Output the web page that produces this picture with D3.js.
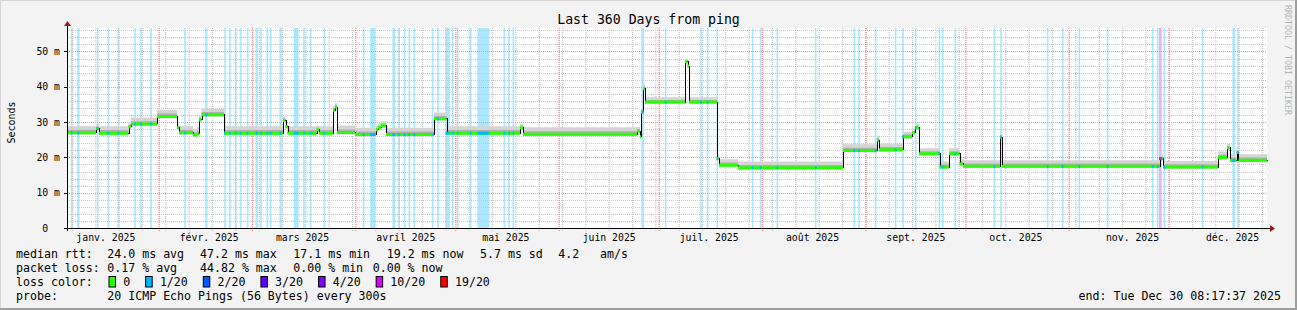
<!DOCTYPE html>
<html>
<head>
<meta charset="utf-8">
<script src="https://cdn.jsdelivr.net/npm/d3@7"></script>
<style>
  body { margin: 0; background: #f3f3f3; }
  text { font-family: "DejaVu Sans Mono", monospace; white-space: pre; }
</style>
</head>
<body>
<div id="chart"></div>
<script>
// --- data ----------------------------------------------------------------
// median rtt as steps: day offset from graph start -> value in ms
const medianDays = [0, 8.7, 9.6, 18.45, 19.2, 27.0, 33.0, 33.6, 37.8, 39.0,
  39.6, 40.35, 47.1, 64.8, 65.55, 66.15, 74.85, 75.6, 79.8, 80.4,
  81.0, 86.4, 92.7, 93.3, 94.2, 95.7, 110.1, 113.85, 135.9, 136.8,
  171.0, 171.9, 172.2, 172.8, 173.4, 185.4, 186.15, 186.6, 195.0, 195.6,
  201.3, 232.8, 243.0, 243.6, 250.8, 253.5, 254.4, 255.6, 261.75, 264.6,
  267.75, 268.8, 279.9, 280.5, 327.9, 328.8, 345.3, 348.0, 348.9, 350.85,
  351.45, 360];
const medianMs = [27.1, 28.3, 27.0, 28.8, 29.6, 31.7, 28.5, 27.1, 26.5, 26.9,
  30.8, 32.2, 27.0, 30.6, 28.8, 27.0, 28.0, 27.0, 33.5, 34.4,
  27.2, 26.6, 28.0, 28.6, 29.2, 26.6, 31.1, 27.0, 28.5, 26.7,
  27.6, 26.0, 33.0, 39.6, 35.8, 47.2, 46.0, 35.8, 19.8, 17.9,
  17.2, 22.1, 25.0, 22.3, 26.0, 27.1, 28.5, 21.2, 17.4, 21.2,
  18.3, 17.6, 25.9, 17.6, 19.8, 17.4, 20.1, 22.8, 19.3, 21.5,
  19.3, 19.3];
// how far the smoke reaches above the median (ms)
const smokeUpMs = [1.8, 1.0, 1.8, 1.2, 1.6, 1.8, 1.0, 1.8, 1.6, 1.6,
  1.0, 1.6, 1.8, 1.0, 1.0, 1.8, 1.0, 1.8, 1.0, 1.0,
  1.8, 1.8, 1.0, 1.0, 1.0, 1.8, 1.6, 1.8, 1.0, 1.8,
  1.0, 1.0, 1.0, 1.0, 1.2, 0.8, 0.8, 1.2, 1.0, 1.6,
  1.6, 1.6, 1.0, 1.6, 1.2, 1.0, 1.0, 1.4, 1.4, 1.4,
  1.2, 1.6, 0.6, 1.6, 1.0, 1.6, 1.6, 1.0, 1.6, 1.0,
  1.6, 1.6];

// loss periods: [day offset (centre), length in days, loss class index]
const lossBars = [
  [1.41, .5, 1], [3.4, .7, 1], [9.2, .5, 1], [12.4, .5, 1], [15.4, .5, 1],
  [20.4, .5, 1], [22.2, .5, 1], [25.2, .5, 1], [35.4, .5, 1], [41.8, .7, 1],
  [47.4, .5, 1], [48.9, .5, 1], [50.6, .5, 1], [52.1, .5, 1], [54.2, .5, 1],
  [56.9, .7, 1], [58.2, .5, 1], [60.1, .5, 1], [61.1, .5, 1], [64.1, .7, 1],
  [68.8, 1.4, 1], [71.1, .5, 1], [73.1, .5, 1], [77.2, .5, 1], [89.0, .5, 1],
  [91.7, 1.5, 1], [98.0, .8, 1], [99.6, .5, 1], [101.3, .5, 1], [102.7, .5, 1],
  [104.2, .5, 1], [109.7, .5, 1], [111.3, .5, 1], [114.2, 1.3, 1], [115.7, .5, 1],
  [117.2, .5, 1], [121.1, .5, 1], [124.9, 3.6, 1], [131.2, .5, 1], [132.6, .5, 1],
  [133.9, .5, 1], [172.7, .8, 1], [179.6, .5, 1], [190.2, .5, 1], [192.2, .5, 1],
  [195.1, .5, 1], [205.7, .5, 1], [208.1, .5, 1], [213.1, .5, 1], [224.6, .5, 1],
  [236.2, .5, 1], [237.6, .5, 1], [242.6, .5, 1], [248.6, .5, 1], [250.8, .5, 1],
  [254.6, .5, 1], [261.7, .5, 1], [262.7, .5, 1], [266.5, .5, 1], [278.2, .5, 1],
  [280.2, .5, 1], [294.2, .5, 1], [298.7, .5, 1], [303.7, .5, 1], [312.2, .5, 1],
  [325.7, .5, 1], [327.2, .5, 1], [328.0, .8, 5], [329.2, .5, 1], [340.7, .5, 1],
  [350.0, .8, 1], [351.3, .5, 1]
];

const lossLabels = ["0", "1/20", "2/20", "3/20", "4/20", "10/20", "19/20"];
const lossColors = ["#26ff00", "#00b8ff", "#0059ff", "#5e00ff", "#7e00ff", "#dd00ff", "#ff0000"];

const monthLabels = ["janv. 2025", "févr. 2025", "mars 2025", "avril 2025", "mai 2025", "juin 2025",
  "juil. 2025", "août 2025", "sept. 2025", "oct. 2025", "nov. 2025", "déc. 2025"];
const monthLabelDay = [16, 16, 16, 16, 16, 16, 16, 16, 16, 16, 20, 20];
const yTickValues = [0, 10, 20, 30, 40, 50];
const yTickLabels = ["0  ", "10 m", "20 m", "30 m", "40 m", "50 m"];

const rttStats = ["24.0 ms avg", "47.2 ms max", "17.1 ms min", "19.2 ms now", "5.7 ms sd", "4.2", "am/s"];
const lossStats = ["0.17 % avg", "44.82 % max", "0.00 % min", "0.00 % now"];
const probeText = "20 ICMP Echo Pings (56 Bytes) every 300s";
const endText = "end: Tue Dec 30 08:17:37 2025";
const yMax = 56.64;

// --- layout ----------------------------------------------------------------
const W = 1297, H = 310;
const pL = 67, pR = 1267, pT = 28, pB = 228;
const endTime = Date.UTC(2025, 11, 30, 8, 17, 37);
const startTime = endTime - 360 * 864e5;
const dayDate = d => new Date(startTime + d * 864e5);

const x = d3.scaleUtc().domain([startTime, endTime]).range([pL, pR]);
const y = d3.scaleLinear().domain([0, yMax]).range([pB, pT]);
const px = v => Math.round(v) + 0.5;

const svg = d3.select("#chart").append("svg")
  .attr("width", W).attr("height", H);

// background + frame
svg.append("rect").attr("width", W).attr("height", H).attr("fill", "#f3f3f3");
svg.append("path").attr("d", `M0,${H} V0 H${W}`).attr("fill", "none")
  .attr("stroke", "#d6d6d6").attr("stroke-width", 2);
svg.append("path").attr("d", `M0,${H - 1} H${W - 1} V0`).attr("fill", "none")
  .attr("stroke", "#9e9e9e").attr("stroke-width", 2);
svg.append("rect").attr("x", pL).attr("y", pT)
  .attr("width", pR - pL).attr("height", pB - pT).attr("fill", "#fff");

// loss background bars
svg.append("g").selectAll("rect").data(lossBars).join("rect")
  .attr("x", d => x(dayDate(d[0] - d[1] / 2)))
  .attr("width", d => x(dayDate(d[0] + d[1] / 2)) - x(dayDate(d[0] - d[1] / 2)))
  .attr("y", pT).attr("height", pB - pT)
  .attr("fill", d => lossColors[d[2]]).attr("fill-opacity", 0.33);

// grid: minor every 2 ms / every monday, major every 10 ms / every month
const weeks = d3.utcMonday.range(new Date(startTime), new Date(endTime));
const months = d3.utcMonth.range(new Date(startTime), new Date(endTime));
const minorY = d3.range(2, yMax, 2).filter(v => v % 10 !== 0);

const grid = svg.append("g").attr("stroke-dasharray", "1,1");
const hLines = (vals, color) => vals.forEach(v => grid.append("line")
  .attr("shape-rendering", "crispEdges")
  .attr("x1", pL).attr("x2", pR).attr("y1", px(y(v))).attr("y2", px(y(v)))
  .attr("stroke", color));
const vLines = (vals, color, w) => vals.forEach(t => grid.append("line")
  .attr("x1", x(t)).attr("x2", x(t)).attr("y1", pT).attr("y2", pB + 3)
  .attr("stroke", color).attr("stroke-width", w));

hLines(minorY, "#c8c8c8");
vLines(weeks, "#c4c4c4", 1.2);
hLines(yTickValues.slice(1), "#ec9a9a");
vLines(months, "#e88a8a", 1.3);

// smoke + median
const pts = medianDays.map((d, i) => ({ t: dayDate(d), v: medianMs[i], up: smokeUpMs[i] }));
const stepArea = (lo, hi) => d3.area().curve(d3.curveStepAfter)
  .x(d => x(d.t)).y0(lo).y1(hi);

svg.append("path").datum(pts).attr("fill", "#d4d4d4")
  .attr("d", stepArea(d => y(d.v - 0.7), d => y(d.v + d.up)));
svg.append("path").datum(pts).attr("fill", "#b0b0b0")
  .attr("d", stepArea(d => y(d.v - 0.4), d => y(d.v + d.up * 0.4)));

svg.append("path").datum(pts).attr("fill", "none").attr("stroke", "#000")
  .attr("stroke-width", 1).attr("shape-rendering", "crispEdges")
  .attr("d", d3.line().curve(d3.curveStepAfter).x(d => px(x(d.t))).y(d => px(y(d.v))));

svg.append("path").datum(pts).attr("fill", lossColors[0])
  .attr("d", stepArea(d => y(d.v) + 2, d => y(d.v) - 1));

const medianAt = day => medianMs[Math.max(0, d3.bisectRight(medianDays, day) - 1)];
svg.append("g").selectAll("rect").data(lossBars).join("rect")
  .attr("x", d => x(dayDate(d[0] - d[1] / 2)))
  .attr("width", d => x(dayDate(d[0] + d[1] / 2)) - x(dayDate(d[0] - d[1] / 2)))
  .attr("y", d => y(medianAt(d[0])) - 1).attr("height", 3)
  .attr("fill", d => lossColors[d[2]]);

// axes
const ax = svg.append("g").attr("shape-rendering", "crispEdges");
ax.append("line").attr("x1", pL - 3).attr("x2", pR + 4)
  .attr("y1", pB + 0.5).attr("y2", pB + 0.5).attr("stroke", "#000");
ax.append("line").attr("x1", pL + 0.5).attr("x2", pL + 0.5)
  .attr("y1", pB + 3).attr("y2", pT - 4).attr("stroke", "#000");
ax.selectAll(".yt").data(yTickValues).join("line")
  .attr("x1", pL - 3).attr("x2", pL)
  .attr("y1", d => px(y(d))).attr("y2", d => px(y(d)))
  .attr("stroke", "#000");
svg.append("path").attr("d", `M${pL + 0.5},${pT - 7} l-3.5,5 h7 z`).attr("fill", "#9a1a1a");
svg.append("path").attr("d", `M${pR + 8},${pB + 0.5} l-5,-3.5 v7 z`).attr("fill", "#9a1a1a");

svg.append("g").selectAll("text").data(yTickValues).join("text")
  .attr("x", 60).attr("y", d => y(d) + 3.5)
  .attr("text-anchor", "end").attr("font-size", "9.8px")
  .text((d, i) => yTickLabels[i]);

svg.append("g").selectAll("text").data(monthLabels).join("text")
  .attr("x", (d, i) => x(new Date(Date.UTC(2025, i, monthLabelDay[i]))))
  .attr("y", 241).attr("text-anchor", "middle").attr("font-size", "9.8px")
  .text(d => d);

svg.append("text").attr("transform", "translate(15,122.5) rotate(-90)")
  .attr("text-anchor", "middle").attr("font-size", "10px").text("Seconds");

svg.append("text").attr("x", 648.5).attr("y", 24).attr("text-anchor", "middle")
  .attr("font-size", "13.2px").text("Last 360 Days from ping");

svg.append("text").attr("transform", "translate(1284.5,5) rotate(90)")
  .attr("font-size", "8.3px").attr("fill", "#b5b5b5").text("RRDTOOL / TOBI OETIKER");

// legend
const lg = svg.append("g").attr("font-size", "11.6px");
const rowY = [258.3, 272.3, 286.3, 300];
lg.append("text").attr("x", 16).attr("y", rowY[0]).text("median rtt:");
const rttX = [107.3, 200, 293.3, 386.7, 480, 558.3, 600];
rttStats.forEach((s, i) => lg.append("text").attr("x", rttX[i]).attr("y", rowY[0]).text(s));
lg.append("text").attr("x", 16).attr("y", rowY[1]).text("packet loss:");
const lossX = [107.3, 200, 293.3, 372.7];
lossStats.forEach((s, i) => lg.append("text").attr("x", lossX[i]).attr("y", rowY[1]).text(s));
lg.append("text").attr("x", 16).attr("y", rowY[2]).text("loss color:");
let bx = 108.5;
lossLabels.forEach((lab, i) => {
  lg.append("rect").attr("x", bx + 0.5).attr("y", 276.5).attr("width", 6.5).attr("height", 10.5)
    .attr("fill", lossColors[i]).attr("stroke", "#000").attr("stroke-width", 1);
  lg.append("text").attr("x", bx + 14.7).attr("y", rowY[2]).text(lab);
  bx = bx + 14.7 + lab.length * 6.98 + 15;
});
lg.append("text").attr("x", 16).attr("y", rowY[3]).text("probe:");
lg.append("text").attr("x", 107.3).attr("y", rowY[3]).text(probeText);
lg.append("text").attr("x", 1281).attr("y", rowY[3]).attr("text-anchor", "end").text(endText);
</script>
</body>
</html>
